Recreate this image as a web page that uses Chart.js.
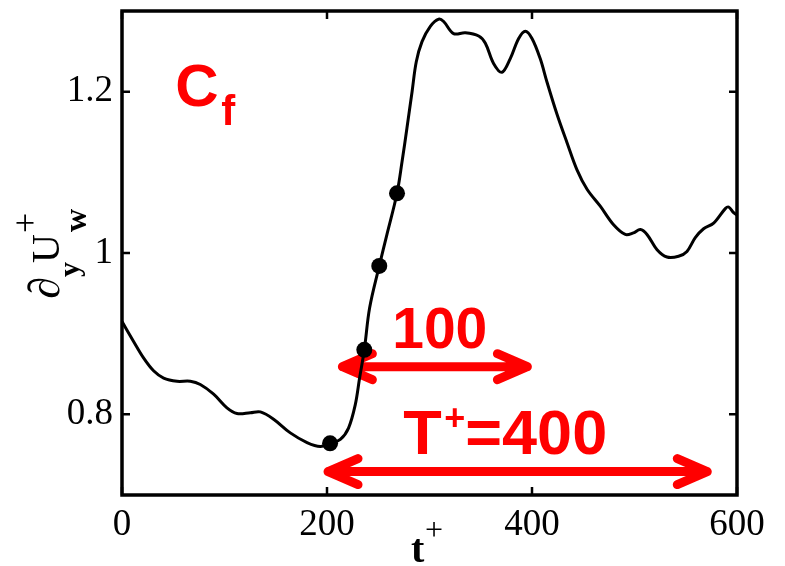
<!DOCTYPE html>
<html>
<head>
<meta charset="utf-8">
<title>Cf</title>
<script src="https://cdn.jsdelivr.net/npm/chart.js@4.4.1/dist/chart.umd.min.js"></script>
<style>
  html, body { margin: 0; padding: 0; background: #fff; }
</style>
</head>
<body>
<canvas id="cf" width="785" height="566"></canvas>
<script>
// wall shear history over one period
const tPlus = [0, 11, 21, 30.8, 40.6, 53.7, 66.6, 76.4, 89.4, 102.4, 112.2, 125.2, 135, 147.9,
  164.2, 180.5, 193.5, 203, 213, 221, 227.6, 231.8, 236.4, 241.6, 251, 258.5, 268.3, 273.2,
  278, 283, 287.1, 292.7, 300.8, 309, 313.8, 323.5, 335, 348, 354.5, 362.5, 370.7, 378.8,
  387, 393.5, 400, 408, 414.6, 424.4, 434.1, 443.9, 453.7, 466.6, 479.6, 491, 499, 505.7,
  512.2, 522, 531.7, 543, 551.2, 559.3, 567.4, 577.2, 588.6, 591.8, 596.7, 600];
const dUw = [0.915, 0.891, 0.870, 0.854, 0.845, 0.841, 0.841, 0.837, 0.825, 0.808, 0.801, 0.802, 0.803, 0.794,
  0.777, 0.765, 0.760, 0.764, 0.769, 0.783, 0.812, 0.845, 0.880, 0.932, 0.984, 1.023, 1.074, 1.113,
  1.155, 1.200, 1.237, 1.262, 1.281, 1.290, 1.287, 1.272, 1.273, 1.269, 1.260, 1.235, 1.224, 1.241,
  1.266, 1.275, 1.266, 1.241, 1.212, 1.172, 1.137, 1.103, 1.079, 1.058, 1.035, 1.023, 1.025, 1.029,
  1.023, 1.004, 0.995, 0.996, 1.002, 1.019, 1.030, 1.037, 1.055, 1.057, 1.050, 1.047];

// sample instants marked on the rise
const dotT = [203, 236.4, 251, 268.3];
const dotU = [0.764, 0.880, 0.984, 1.074];

const xTicks = [0, 200, 400, 600];
const yTicks = [0.8, 1, 1.2];

// red spans: start, end (t+)
const spanShort = [215, 395.5];
const spanLong = [201, 571];

const red = '#ff0000';
const serif = "'Liberation Serif', 'Times New Roman', serif";
const sans = "'Liberation Sans', Arial, sans-serif";

function arrow(ctx, xa, xb, y) {
  ctx.beginPath();
  ctx.moveTo(xa, y); ctx.lineTo(xb, y);
  ctx.moveTo(xa + 30, y - 13); ctx.lineTo(xa, y); ctx.lineTo(xa + 30, y + 13);
  ctx.moveTo(xb - 30, y - 13); ctx.lineTo(xb, y); ctx.lineTo(xb - 30, y + 13);
  ctx.stroke();
}

const decor = {
  id: 'decor',
  beforeDatasetsDraw(chart) {
    const ctx = chart.ctx, sx = chart.scales.x, sy = chart.scales.y;
    ctx.save();
    ctx.strokeStyle = red;
    ctx.fillStyle = red;
    ctx.lineWidth = 9;
    ctx.lineCap = 'round';
    ctx.lineJoin = 'round';
    arrow(ctx, sx.getPixelForValue(spanShort[0]), sx.getPixelForValue(spanShort[1]), sy.getPixelForValue(0.859));
    arrow(ctx, sx.getPixelForValue(spanLong[0]), sx.getPixelForValue(spanLong[1]), sy.getPixelForValue(0.729));

    ctx.textBaseline = 'alphabetic';
    ctx.textAlign = 'center';
    ctx.font = `bold 57px ${sans}`;
    ctx.fillText('100', sx.getPixelForValue(310), sy.getPixelForValue(0.8824));

    ctx.textAlign = 'left';
    const bx = sx.getPixelForValue(274.4), by = sy.getPixelForValue(0.7509);
    ctx.font = `bold 63px ${sans}`;
    ctx.fillText('T', bx, by);
    ctx.fillText('=400', bx + 62, by);
    ctx.font = `bold 36px ${sans}`;
    ctx.fillText('+', bx + 41, by - 24);

    ctx.font = `bold 60px ${sans}`;
    ctx.fillText('C', sx.getPixelForValue(52), sy.getPixelForValue(1.1828));
    ctx.font = `bold 42px ${sans}`;
    ctx.fillText('f', sx.getPixelForValue(96.9), sy.getPixelForValue(1.159));
    ctx.restore();
  },
  afterDraw(chart) {
    const ctx = chart.ctx, a = chart.chartArea, sx = chart.scales.x, sy = chart.scales.y;
    ctx.save();
    ctx.strokeStyle = '#000';
    ctx.lineWidth = 3.5;
    ctx.strokeRect(a.left, a.top, a.right - a.left, a.bottom - a.top);

    // inward ticks on all four sides
    ctx.lineWidth = 2.5;
    ctx.beginPath();
    xTicks.forEach(v => {
      const p = sx.getPixelForValue(v);
      ctx.moveTo(p, a.bottom); ctx.lineTo(p, a.bottom - 8);
      ctx.moveTo(p, a.top); ctx.lineTo(p, a.top + 8);
    });
    yTicks.forEach(v => {
      const p = sy.getPixelForValue(v);
      ctx.moveTo(a.left, p); ctx.lineTo(a.left + 8, p);
      ctx.moveTo(a.right, p); ctx.lineTo(a.right - 8, p);
    });
    ctx.stroke();

    ctx.fillStyle = '#000';
    ctx.textBaseline = 'alphabetic';
    ctx.textAlign = 'left';

    // x title: t+
    ctx.font = `bold 40px ${serif}`;
    ctx.fillText('t', 411, 562);
    ctx.font = `32px ${serif}`;
    ctx.fillText('+', 425, 540);

    // y title: ∂y U+w, rotated
    ctx.translate(59, 297);
    ctx.rotate(-Math.PI / 2);
    ctx.font = `44px ${serif}`;
    ctx.fillText('\u2202', -2, 0);
    ctx.font = `bold 30px ${serif}`;
    ctx.fillText('y', 20, 20);
    ctx.font = `40px ${serif}`;
    ctx.fillText('U', 34, 0);
    ctx.font = `36px ${serif}`;
    ctx.fillText('+', 64, -22);
    ctx.font = `bold 32px ${serif}`;
    ctx.fillText('w', 65, 27);
    ctx.restore();
  }
};

new Chart(document.getElementById('cf').getContext('2d'), {
  type: 'line',
  data: {
    datasets: [{
      data: dotT.map((t, i) => ({ x: t, y: dotU[i] })),
      showLine: false,
      pointRadius: 8,
      pointBackgroundColor: '#000',
      pointBorderWidth: 0
    }, {
      data: tPlus.map((t, i) => ({ x: t, y: dUw[i] })),
      borderColor: '#000',
      borderWidth: 3,
      pointRadius: 0,
      tension: 0.35,
      fill: false
    }]
  },
  options: {
    responsive: false,
    animation: false,
    devicePixelRatio: 1,
    layout: { padding: { top: 11, right: 48, left: 0, bottom: 0 } },
    plugins: { legend: { display: false }, tooltip: { enabled: false } },
    scales: {
      x: {
        type: 'linear',
        min: 0, max: 600,
        afterBuildTicks: s => { s.ticks = xTicks.map(v => ({ value: v })); },
        afterFit: s => { s.height = 71; s.paddingLeft = 0; s.paddingRight = 0; },
        grid: { display: false, drawTicks: false },
        border: { display: false },
        ticks: { autoSkip: false, maxRotation: 0, padding: 8, color: '#000',
          font: { family: serif, size: 37 }, callback: v => String(v) }
      },
      y: {
        type: 'linear',
        min: 0.7, max: 1.3,
        afterBuildTicks: s => { s.ticks = yTicks.map(v => ({ value: v })); },
        afterFit: s => { s.width = 122; s.paddingTop = 0; s.paddingBottom = 0; },
        grid: { display: false, drawTicks: false },
        border: { display: false },
        ticks: { autoSkip: false, padding: 9, color: '#000',
          font: { family: serif, size: 37 }, callback: v => String(v) }
      }
    }
  },
  plugins: [decor]
});
</script>
</body>
</html>
